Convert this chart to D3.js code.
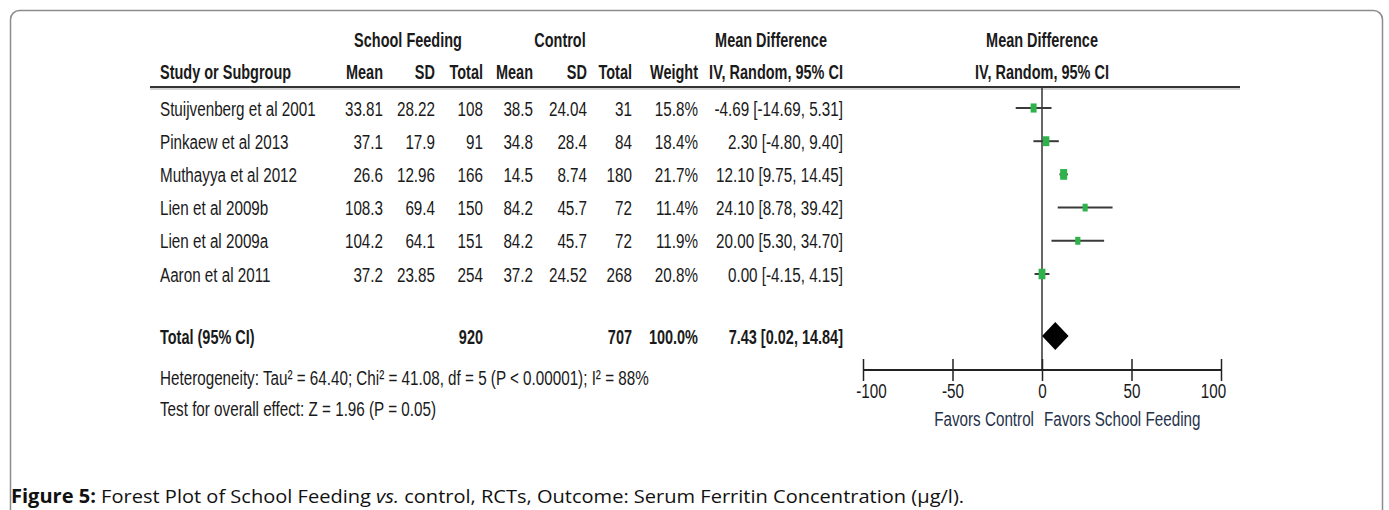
<!DOCTYPE html>
<html><head><meta charset="utf-8">
<script src="https://cdn.jsdelivr.net/npm/d3@7"></script>
<style>html,body{margin:0;padding:0;background:#fff;}svg{display:block;}</style>
</head><body>
<svg id="c" width="1389" height="510"></svg>
<script>
// ---- data ----
const studies   = ["Stuijvenberg et al 2001","Pinkaew et al 2013","Muthayya et al 2012","Lien et al 2009b","Lien et al 2009a","Aaron et al 2011"];
const sfMean    = ["33.81","37.1","26.6","108.3","104.2","37.2"];
const sfSD      = ["28.22","17.9","12.96","69.4","64.1","23.85"];
const sfTotal   = ["108","91","166","150","151","254"];
const ctMean    = ["38.5","34.8","14.5","84.2","84.2","37.2"];
const ctSD      = ["24.04","28.4","8.74","45.7","45.7","24.52"];
const ctTotal   = ["31","84","180","72","72","268"];
const weights   = [15.8, 18.4, 21.7, 11.4, 11.9, 20.8];
const md        = [-4.69, 2.30, 12.10, 24.10, 20.00, 0.00];
const lo        = [-14.69, -4.80, 9.75, 8.78, 5.30, -4.15];
const hi        = [5.31, 9.40, 14.45, 39.42, 34.70, 4.15];
const totalSF = "920", totalCT = "707", totalW = "100.0%";
const pooled = {md: 7.43, lo: 0.02, hi: 14.84};
const axisTicks = [-100, -50, 0, 50, 100];
const hetText  = "Heterogeneity: Tau\u00b2 = 64.40; Chi\u00b2 = 41.08, df = 5 (P < 0.00001); I\u00b2 = 88%";
const testText = "Test for overall effect: Z = 1.96 (P = 0.05)";

// ---- layout ----
const svg = d3.select("#c");
const FS = 21, SX = 0.725, SXB = 0.69, INK = "#1a1a1a";
const loc = d3.formatLocale({decimal: ".", thousands: ",", grouping: [3], currency: ["", ""], minus: "-"});
const fmt = loc.format(".2f");
const x = d3.scaleLinear().domain([-100, 100]).range([863, 1221]);
const y = d3.scalePoint().domain(studies).range([108, 274]);
const yTotal = 336, yAxis = 370, yHead1 = 39, yHead2 = 71, yLine = 87;

svg.append("rect").attr("x", 10.5).attr("y", 10.5).attr("width", 1372).attr("height", 600)
  .attr("rx", 9).attr("fill", "none").attr("stroke", "#8c8c8c").attr("stroke-width", 1.5);

function T(xx, yy, s, anchor, bold, color) {
  return svg.append("text")
    .attr("transform", `translate(${xx},${yy + 7.5}) scale(${bold ? SXB : SX},1)`)
    .attr("text-anchor", anchor || "start")
    .attr("font-family", "'Liberation Sans', Arial, sans-serif")
    .attr("font-size", FS)
    .attr("font-weight", bold ? "bold" : "normal")
    .attr("fill", color || INK)
    .text(s);
}

// headers
T(408, yHead1, "School Feeding", "middle", true);
T(560, yHead1, "Control", "middle", true);
T(771, yHead1, "Mean Difference", "middle", true);
T(x(0), yHead1, "Mean Difference", "middle", true);
T(160, yHead2, "Study or Subgroup", "start", true);
const colR = [383, 435, 483, 533, 587, 632, 698, 843];
const heads = ["Mean", "SD", "Total", "Mean", "SD", "Total", "Weight", "IV, Random, 95% CI"];
heads.forEach((h, i) => T(colR[i], yHead2, h, "end", true));
T(x(0), yHead2, "IV, Random, 95% CI", "middle", true);

// header rule
svg.append("line").attr("x1", 150).attr("x2", 1240).attr("y1", yLine).attr("y2", yLine)
  .attr("stroke", "#333").attr("stroke-width", 2);
svg.append("line").attr("x1", 150).attr("x2", 1240).attr("y1", yLine + 2).attr("y2", yLine + 2)
  .attr("stroke", "#aaa").attr("stroke-width", 1);

// study rows
studies.forEach((s, i) => {
  const yy = y(s);
  T(160, yy, s, "start");
  const cells = [sfMean[i], sfSD[i], sfTotal[i], ctMean[i], ctSD[i], ctTotal[i], weights[i].toFixed(1) + "%",
    `${fmt(md[i])} [${fmt(lo[i])}, ${fmt(hi[i])}]`];
  cells.forEach((c, j) => T(colR[j], yy, c, "end"));
});

// total row
T(160, yTotal, "Total (95% CI)", "start", true);
T(colR[2], yTotal, totalSF, "end", true);
T(colR[5], yTotal, totalCT, "end", true);
T(colR[6], yTotal, totalW, "end", true);
T(colR[7], yTotal, `${fmt(pooled.md)} [${fmt(pooled.lo)}, ${fmt(pooled.hi)}]`, "end", true);

T(160, 377, hetText, "start");
T(160, 408, testText, "start");

// zero line
svg.append("line").attr("x1", x(0)).attr("x2", x(0)).attr("y1", yLine).attr("y2", yAxis)
  .attr("stroke", "#333").attr("stroke-width", 1.5);

// CIs and squares
const g = svg.append("g");
studies.forEach((s, i) => {
  const yy = y(s);
  g.append("line").attr("x1", x(lo[i])).attr("x2", x(hi[i])).attr("y1", yy).attr("y2", yy)
    .attr("stroke", "#3a3a3a").attr("stroke-width", 2);
  const w = Math.sqrt(weights[i]) * 1.5, h = Math.sqrt(weights[i]) * 2.3;
  g.append("rect").attr("x", x(md[i]) - w / 2).attr("y", yy - h / 2).attr("width", w).attr("height", h)
    .attr("fill", "#2db34a");
});

// diamond
svg.append("path")
  .attr("d", `M${x(pooled.lo)},${yTotal} L${x(pooled.md)},${yTotal - 14} L${x(pooled.hi)},${yTotal} L${x(pooled.md)},${yTotal + 14} Z`)
  .attr("fill", "#000");

// axis
const ax = svg.append("g").attr("transform", `translate(0,${yAxis})`)
  .call(d3.axisBottom(x).tickValues(axisTicks).tickFormat(loc.format("d")).tickSize(11).tickPadding(4));
ax.select(".domain").attr("stroke", "#222").attr("stroke-width", 1.8).attr("d", `M${x(-100)},0H${x(100)}`);
ax.selectAll(".tick line").attr("y1", -11).attr("y2", 11).attr("stroke", "#222").attr("stroke-width", 1.5);
ax.selectAll(".tick text").each(function(d) {
  const t = d3.select(this);
  const dx = d === -100 ? 8 : d === 100 ? -8 : 0;
  t.attr("x", null).attr("y", null).attr("dy", null)
    .attr("transform", `translate(${dx},${20 + 7.5}) scale(${SX},1)`)
    .attr("font-family", "'Liberation Sans', Arial, sans-serif").attr("font-size", FS).attr("fill", INK);
});
T(1034, 418, "Favors Control", "end", false, "#26324a");
T(1044, 418, "Favors School Feeding", "start", false, "#26324a");

// caption
const cap = svg.append("text").attr("x", 11).attr("y", 503)
  .attr("font-family", "'Open Sans', sans-serif").attr("font-size", 19).attr("fill", "#111");
cap.append("tspan").attr("font-weight", "bold").text("Figure 5:");
cap.append("tspan").text(" Forest Plot of School Feeding ");
cap.append("tspan").attr("font-style", "italic").text("vs.");
cap.append("tspan").text(" control, RCTs, Outcome: Serum Ferritin Concentration (\u00b5g/l).");
const L = cap.node().getComputedTextLength();
cap.attr("transform", `translate(11,0) scale(${954 / L},1) translate(-11,0)`);
</script>
</body></html>
